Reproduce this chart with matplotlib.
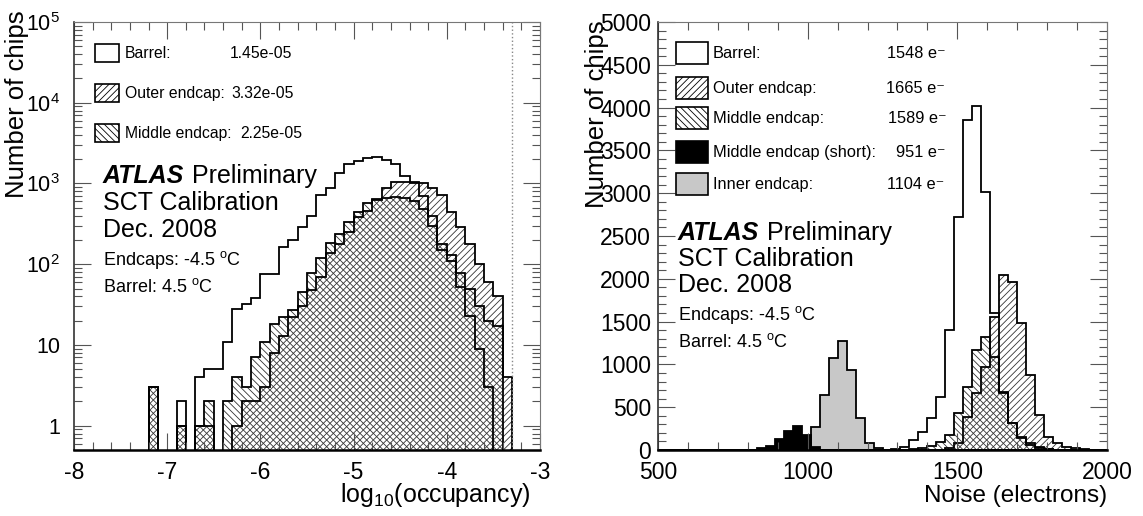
import numpy as np
import matplotlib.pyplot as plt
from matplotlib.patches import Rectangle
from matplotlib.ticker import FixedLocator, MultipleLocator, NullFormatter

plt.rcParams['font.family'] = ['Liberation Sans', 'DejaVu Sans']
plt.rcParams['mathtext.fontset'] = 'custom'
plt.rcParams['mathtext.rm'] = 'Liberation Sans'
plt.rcParams['mathtext.it'] = 'Liberation Sans:italic'
plt.rcParams['mathtext.bf'] = 'Liberation Sans:bold'
plt.rcParams['hatch.linewidth'] = 0.6

# Left: log10(occupancy), 50 bins of 0.1 from -8 to -3
occ_edges = np.round(np.linspace(-8, -3, 51), 2)
occ_barrel = [0, 0, 0, 0, 0, 0, 0, 0, 0, 0,
              0, 2, 0, 4, 5, 5, 11, 28, 32, 38,
              75, 75, 163, 198, 286, 390, 710, 890, 1330, 1720,
              1900, 2080, 2150, 1960, 1720, 1250, 1020, 700, 400, 150,
              130, 52, 23, 9, 3, 0, 0, 0, 0, 0]
occ_outer = [0, 0, 0, 0, 0, 0, 0, 0, 3, 0,
             0, 1, 0, 1, 1, 0, 0, 1, 2, 2,
             3, 8, 13, 22, 30, 48, 69, 137, 180, 250,
             380, 460, 620, 890, 1030, 1050, 1040, 1000, 890, 710,
             440, 290, 180, 100, 60, 40, 4, 0, 0, 0]
occ_middle = [0, 0, 0, 0, 0, 0, 0, 0, 3, 0,
              0, 1, 0, 1, 2, 0, 2, 4, 3, 7,
              11, 18, 22, 27, 45, 77, 121, 181, 240, 330,
              440, 565, 640, 670, 680, 670, 600, 480, 300, 180,
              110, 78, 50, 30, 20, 17, 0, 0, 0, 0]
occ_labels = ['Barrel:', 'Outer endcap:', 'Middle endcap:']
occ_means = ['1.45e-05', '3.32e-05', '2.25e-05']

# Right: noise, 50 bins of 30 e from 500 to 2000
noise_edges = np.linspace(500, 2000, 51)
noise_barrel = [0] * 26 + [8, 39, 117, 214, 370, 623, 1402, 2718, 3855, 4019,
                           3018, 1600, 662, 314, 140, 58, 23, 10, 5, 0, 0, 0, 0, 0]
noise_outer = [0] * 32 + [20, 80, 389, 662, 973, 1557, 2044, 1966, 1480, 876,
                          409, 156, 80, 39, 20, 10, 5, 5]
noise_middle = [0] * 28 + [10, 20, 50, 90, 175, 428, 740, 1168, 1324, 1090,
                           681, 311, 156, 80, 30, 10, 0, 0, 0, 0, 0, 0]
noise_short = [0] * 11 + [20, 50, 128, 222, 280, 175, 40] + [0] * 32
noise_inner = [0] * 16 + [30, 272, 642, 1071, 1273, 935, 370, 78, 20] + [0] * 25
noise_labels = ['Barrel:', 'Outer endcap:', 'Middle endcap:', 'Middle endcap (short):', 'Inner endcap:']
noise_means = ['1548', '1665', '1589', '951', '1104']

W, H = 1143, 516
fig = plt.figure(figsize=(W / 100, H / 100), dpi=100)

HATCH_OUT = '/////'
HATCH_MID = '\\\\\\\\\\'


def px(x, y):
    return x / W, 1 - y / H


def style_axes(ax):
    ax.tick_params(which='both', direction='in', top=True, right=True,
                   labelsize=16.5, width=0.8, color='#555555')
    ax.tick_params(which='major', length=12)
    ax.tick_params(which='minor', length=6)
    for s in ax.spines.values():
        s.set_linewidth(0.8)
        s.set_color('#777777')
    ax.spines['bottom'].set_linewidth(1.8)
    ax.spines['bottom'].set_color('black')
    ax.spines['left'].set_linewidth(1.2)
    ax.spines['left'].set_color('#333333')


def hatch_fill(ax, vals, edges, hatch, base):
    v = np.maximum(np.array(vals, float), base)
    ax.stairs(v, edges, baseline=base, fill=True, facecolor='none',
              edgecolor='#333333', hatch=hatch, linewidth=0)


def outline(ax, vals, edges, base):
    v = np.maximum(np.array(vals, float), base)
    ax.stairs(v, edges, baseline=base, color='black', linewidth=1.3)


def atlas_block(x, y, dy):
    t = fig.text(*px(x, y), 'ATLAS', fontsize=18, fontweight='bold',
                 fontstyle='italic', va='baseline')
    fig.canvas.draw()
    bb = t.get_window_extent()
    fig.text(*px(bb.x1 + 1, y), ' Preliminary', fontsize=18, va='baseline')
    fig.text(*px(x, y + dy[0]), 'SCT Calibration', fontsize=18, va='baseline')
    fig.text(*px(x, y + dy[1]), 'Dec. 2008', fontsize=18, va='baseline')
    fig.text(*px(x, y + dy[2]), 'Endcaps: -4.5 $^{\\mathrm{o}}$C', fontsize=13, va='baseline')
    fig.text(*px(x, y + dy[3]), 'Barrel: 4.5 $^{\\mathrm{o}}$C', fontsize=13, va='baseline')


# ---------------- left panel ----------------
ax1 = fig.add_axes([74 / W, 1 - 450 / H, 466 / W, 428 / H])
ax1.set_yscale('log')
base = 0.1
hatch_fill(ax1, occ_outer, occ_edges, HATCH_OUT, base)
hatch_fill(ax1, occ_middle, occ_edges, HATCH_MID, base)
outline(ax1, occ_barrel, occ_edges, base)
outline(ax1, occ_outer, occ_edges, base)
outline(ax1, occ_middle, occ_edges, base)
ax1.axvline(-3.3, color='#888888', linestyle=':', linewidth=1)
ax1.set_xlim(-8, -3)
ax1.set_ylim(0.5, 1e5)
style_axes(ax1)
ax1.xaxis.set_major_locator(MultipleLocator(1))
ax1.xaxis.set_minor_locator(MultipleLocator(0.2))
ax1.yaxis.set_major_locator(FixedLocator([1, 10, 100, 1e3, 1e4, 1e5]))
ax1.set_yticklabels(['1', '10', '10$^{2}$', '10$^{3}$', '10$^{4}$', '10$^{5}$'])
ax1.yaxis.set_minor_locator(FixedLocator(
    [m * 10.0 ** e for e in range(-1, 5) for m in range(2, 10)]))
ax1.yaxis.set_minor_formatter(NullFormatter())
ax1.set_xticklabels([f'{v:g}' for v in ax1.get_xticks()])
ax1.tick_params(axis='x', pad=8)
ax1.tick_params(axis='y', pad=10, labelsize=15.5)
fig.text(*px(530, 502), 'log$_{10}$(occupancy)', fontsize=18, ha='right', va='baseline')
fig.text(*px(17, 10), 'Number of chips', fontsize=18.5, rotation=90, ha='center', va='top')

val_x1 = [230, 231, 240]
for i, (lab, h, val, vx) in enumerate(zip(occ_labels, [None, HATCH_OUT, HATCH_MID],
                                            occ_means, val_x1)):
    yc = 53 + 40 * i
    fx, fy = px(95, yc + 9)
    fig.patches.append(Rectangle((fx, fy), 24 / W, 18 / H, transform=fig.transFigure,
                                 facecolor='white', edgecolor='black', linewidth=1.2,
                                 hatch=h))
    fig.text(*px(125, yc + 5), lab, fontsize=11.3, va='baseline')
    fig.text(*px(vx, yc + 5), val, fontsize=11.3, va='baseline')

# ---------------- right panel ----------------
ax2 = fig.add_axes([658 / W, 1 - 450 / H, 449 / W, 428 / H])
ax2.stairs(noise_inner, noise_edges, fill=True, facecolor='#c8c8c8')
ax2.stairs(noise_short, noise_edges, fill=True, facecolor='black')
hatch_fill(ax2, noise_outer, noise_edges, HATCH_OUT, 0)
hatch_fill(ax2, noise_middle, noise_edges, HATCH_MID, 0)
for vals in (noise_inner, noise_barrel, noise_outer, noise_middle, noise_short):
    outline(ax2, vals, noise_edges, 0)
ax2.set_xlim(500, 2000)
ax2.set_ylim(0, 5000)
style_axes(ax2)
ax2.xaxis.set_major_locator(MultipleLocator(500))
ax2.xaxis.set_minor_locator(MultipleLocator(100))
ax2.yaxis.set_major_locator(MultipleLocator(500))
ax2.yaxis.set_minor_locator(MultipleLocator(100))
ax2.tick_params(axis='x', pad=8)
ax2.tick_params(axis='y', pad=5)
fig.text(*px(1107, 502), 'Noise (electrons)', fontsize=17.5, ha='right', va='baseline')
fig.text(*px(597, 20), 'Number of chips', fontsize=18.5, rotation=90, ha='center', va='top')

styles2 = [('white', None), ('white', HATCH_OUT), ('white', HATCH_MID),
           ('black', None), ('#c8c8c8', None)]
ycs2 = [53, 88, 118, 152, 184]
val_x2 = [887, 886, 888, 896, 887]
for lab, (fc, h), yc, val, vx in zip(noise_labels, styles2, ycs2, noise_means, val_x2):
    fx, fy = px(676, yc + 11)
    fig.patches.append(Rectangle((fx, fy), 32 / W, 22 / H, transform=fig.transFigure,
                                 facecolor=fc, edgecolor='black', linewidth=1.2, hatch=h))
    fig.text(*px(713, yc + 5), lab, fontsize=11.8, va='baseline')
    fig.text(*px(vx, yc + 5), val + ' e\u207b', fontsize=11.8, va='baseline')

atlas_block(103, 183, [27, 54, 82, 109])
atlas_block(678, 240, [26, 52, 80, 107])

fig.savefig('out.png', dpi=100)
